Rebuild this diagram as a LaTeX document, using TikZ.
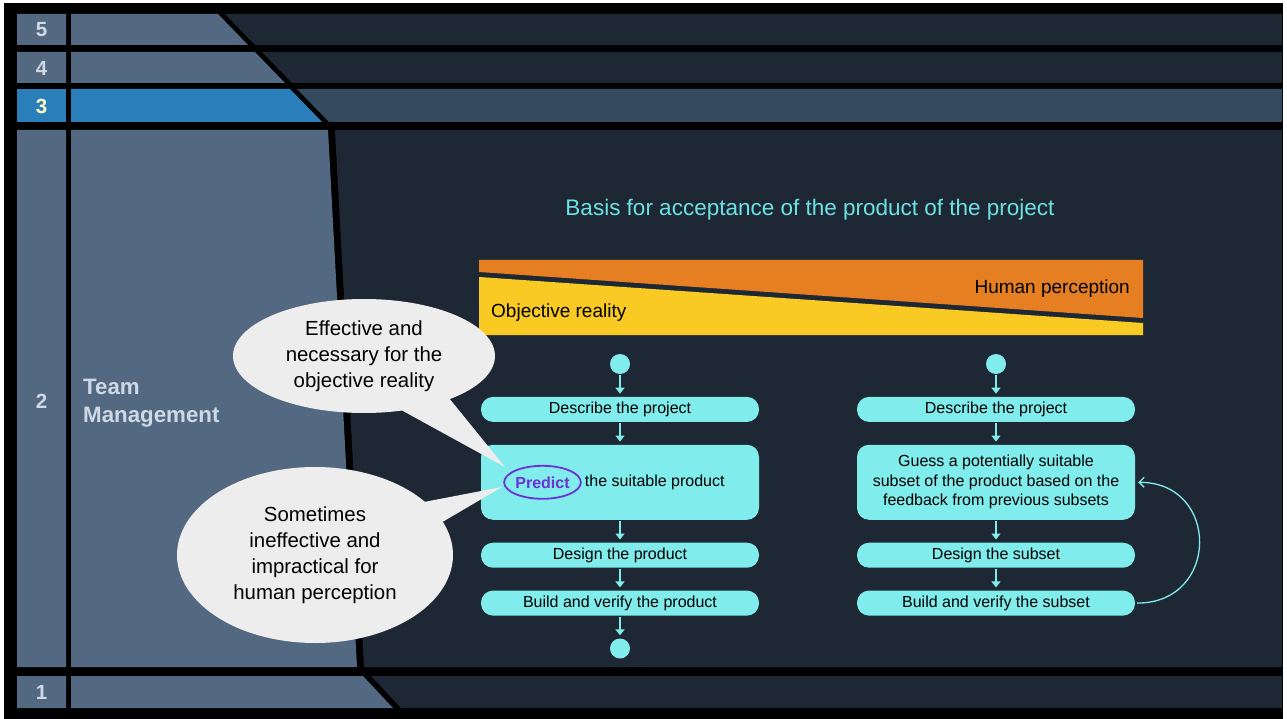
\documentclass[tikz,border=0pt]{standalone}
\usepackage{fontspec}
\setmainfont{Liberation Sans}
\usetikzlibrary{positioning,arrows.meta,shapes.geometric,shapes.callouts}
\definecolor{pnl}{RGB}{83,104,129}
\definecolor{drk}{RGB}{30,40,53}
\definecolor{act}{RGB}{42,127,186}
\definecolor{actd}{RGB}{52,74,95}
\definecolor{cyn}{RGB}{128,236,236}
\definecolor{ttl}{RGB}{108,226,226}
\definecolor{org}{RGB}{229,127,33}
\definecolor{ylw}{RGB}{249,202,36}
\definecolor{prp}{RGB}{108,50,214}
\definecolor{clt}{RGB}{237,237,237}
\definecolor{numc}{RGB}{206,217,229}
\definecolor{numa}{RGB}{255,250,196}

\begin{document}
\begin{tikzpicture}[x=1pt,y=-1pt,>={Triangle[length=6pt,width=9pt]},node distance=22.5pt,
  stp/.style={fill=cyn,rounded corners=12pt,minimum width=278pt,minimum height=25pt,inner sep=0pt,align=center,font=\fontsize{16}{19.5}\selectfont},
  big/.style={stp,minimum height=75pt},
  op/.style={circle,fill=cyn,minimum size=20pt,inner sep=0pt},
  flw/.style={->,draw=cyn,line width=1.4pt,shorten <=1pt,shorten >=3pt},
  prd/.style={ellipse,draw=prp,line width=1.8pt,text=prp,minimum width=70pt,minimum height=33pt,inner sep=0pt,font=\fontsize{16}{19}\selectfont\bfseries},
  clo/.style={ellipse callout,fill=clt,inner sep=0pt,align=center,font=\fontsize{20.4}{26}\selectfont},
  num/.style={text=numc,font=\fontsize{20.5}{22}\selectfont\bfseries},
  lbl/.style={font=\fontsize{19}{22}\selectfont,inner sep=0pt}]
  \useasboundingbox (0,0) rectangle (1287,719);
  \fill[white] (0,0) rectangle (1287,719);
  \fill[black] (4,3) rectangle (1283,719);
  % layer bands
  \fill[pnl] (17,14) rectangle (66,45) (17,52) rectangle (66,83) (17,130) rectangle (66,667) (17,676) rectangle (66,708);
  \fill[act] (17,89) rectangle (66,122);
  \fill[pnl] (71,14) -- (218,14) -- (248,45) -- (71,45) -- cycle;
  \fill[drk] (225,14) -- (1282,14) -- (1282,45) -- (255,45) -- cycle;
  \fill[pnl] (71,52) -- (255,52) -- (285,83) -- (71,83) -- cycle;
  \fill[drk] (262,52) -- (1282,52) -- (1282,83) -- (292,83) -- cycle;
  \fill[act] (71,89) -- (290,89) -- (322,122) -- (71,122) -- cycle;
  \fill[actd] (297,89) -- (1282,89) -- (1282,122) -- (329,122) -- cycle;
  \fill[pnl] (71,130) -- (328,130) -- (357,667) -- (71,667) -- cycle;
  \fill[drk] (335,130) -- (1282,130) -- (1282,667) -- (364,667) -- cycle;
  \fill[pnl] (71,676) -- (363,676) -- (393,708) -- (71,708) -- cycle;
  \fill[drk] (371,676) -- (1282,676) -- (1282,708) -- (401,708) -- cycle;
  \node[num] (n5) at (41.5,30) {5};
  \node[num] (n4) at (41.5,68) {4};
  \node[num,text=numa] (n3) at (41.5,106) {3};
  \node[num] (n2) at (41.5,401) {2};
  \node[num] (n1) at (41.5,692) {1};
  \node[text=numc,font=\fontsize{22.3}{27.5}\selectfont\bfseries,align=left,inner sep=0pt,anchor=west] (team) at (83,403) {Team\\Management};
  % acceptance bar
  \node[text=ttl,font=\fontsize{22.5}{26}\selectfont] (ttl) at (810,210) {Basis for acceptance of the product of the project};
  \fill[org] (479,260) -- (1143,260) -- (1143,318) -- (479,272) -- cycle;
  \fill[ylw] (479,277) -- (1143,323) -- (1143,335) -- (479,335) -- cycle;
  \node[lbl,anchor=base east] (hum) at (1130,293) {Human perception};
  \node[lbl,anchor=base west] (obj) at (491,317) {Objective reality};
  % predictive
  \node[op] (l0) at (620,364) {};
  \node[stp,below=of l0] (l1) {Describe the project};
  \node[big,below=of l1] (l2) {};
  \node[stp,below=of l2] (l3) {Design the product};
  \node[stp,below=of l3] (l4) {Build and verify the product};
  \node[op,below=of l4] (l5) {};
  \node[prd] (prd) at ([xshift=-77.5pt]l2.center) {Predict};
  \node[right=3pt of prd,inner sep=0pt,font=\fontsize{16}{19.5}\selectfont] (suit) {the suitable product};
  \draw[flw] (l0)--(l1); \draw[flw] (l1)--(l2); \draw[flw] (l2)--(l3);
  \draw[flw] (l3)--(l4); \draw[flw] (l4)--(l5);
  % adaptive
  \node[op] (r0) at (996,364) {};
  \node[stp,below=of r0] (r1) {Describe the project};
  \node[big,below=of r1] (r2) {Guess a potentially suitable\\subset of the product based on the\\feedback from previous subsets};
  \node[stp,below=of r2] (r3) {Design the subset};
  \node[stp,below=of r3] (r4) {Build and verify the subset};
  \draw[flw] (r0)--(r1); \draw[flw] (r1)--(r2); \draw[flw] (r2)--(r3); \draw[flw] (r3)--(r4);
  \draw[cyn,line width=1.3pt,-{Straight Barb[length=5pt,width=10pt]},shorten <=2pt,shorten >=3pt] (r4.east) to[out=0,in=0,looseness=1.8] (r2.east);
  % callouts
  \node[clo,minimum width=262pt,minimum height=114pt,callout pointer arc=24,callout absolute pointer={(505,467)}] (c1) at (364,356) {Effective and\\necessary for the\\objective reality};
  \node[clo,minimum width=276pt,minimum height=176pt,callout absolute pointer={(502,487)}] (c2) at (315,555) {Sometimes\\ineffective and\\impractical for\\human perception};
\end{tikzpicture}
\end{document}
